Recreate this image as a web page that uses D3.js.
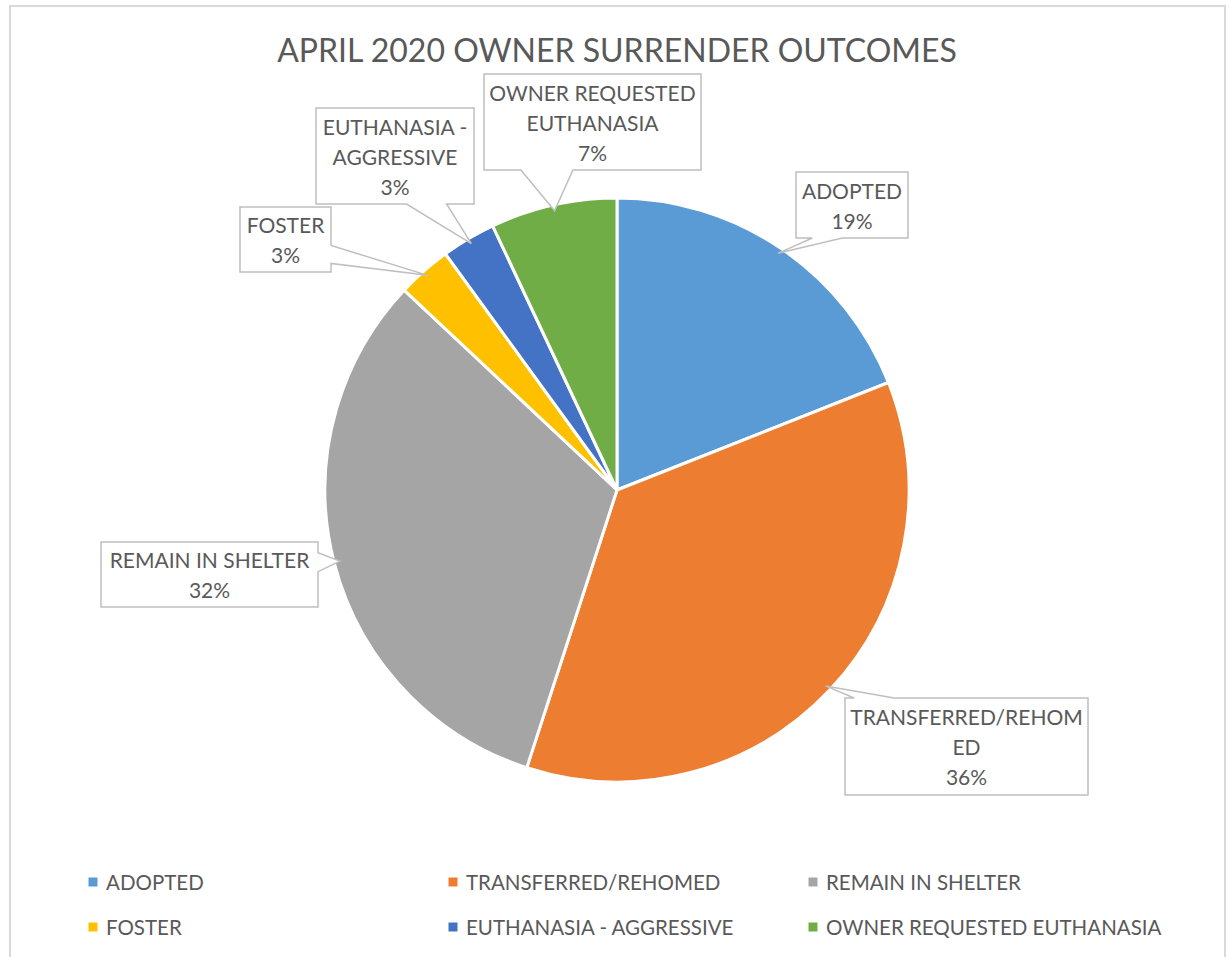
<!DOCTYPE html>
<html>
<head>
<meta charset="utf-8">
<script src="https://cdn.jsdelivr.net/npm/d3@7"></script>
<style>
  body { margin: 0; background: #fff; }
  text { font-family: Lato, "Open Sans", sans-serif; fill: #595959; }
</style>
</head>
<body>
<div id="chart"></div>
<script>
// data
const categories = ["ADOPTED", "TRANSFERRED/REHOMED", "REMAIN IN SHELTER", "FOSTER", "EUTHANASIA - AGGRESSIVE", "OWNER REQUESTED EUTHANASIA"];
const values = [19, 36, 32, 3, 3, 7];
const colors = ["#5B9BD5", "#ED7D31", "#A5A5A5", "#FFC000", "#4472C4", "#70AD47"];
// label text as Excel wrapped it
const labelLines = [
  ["ADOPTED"],
  ["TRANSFERRED/REHOM", "ED"],
  ["REMAIN IN SHELTER"],
  ["FOSTER"],
  ["EUTHANASIA -", "AGGRESSIVE"],
  ["OWNER REQUESTED", "EUTHANASIA"]
];

/** CONSTANTS */
const width = 1229, height = 957;
const cx = 617, cy = 490, radius = 292;
const lineH = 30;

// callout boxes: x, y, w, h, side the pointer leaves from, position of pointer base along that side
const boxes = [
  { x: 796, y: 172, w: 112, h: 66, side: "bottom", at: 0.28, base: 30 },
  { x: 845, y: 698, w: 243, h: 97, side: "top", at: 0.12, base: 40 },
  { x: 101, y: 542, w: 217, h: 65, side: "right", at: 0.31, base: 19 },
  { x: 240, y: 207, w: 91, h: 65, side: "right", at: 0.73, base: 18 },
  { x: 316, y: 108, w: 158, h: 96, side: "bottom", at: 0.70, base: 40 },
  { x: 484, y: 74, w: 217, h: 96, side: "bottom", at: 0.29, base: 52 }
];

const data = categories.map((c, i) => ({ name: c, value: values[i], color: colors[i], lines: labelLines[i], box: boxes[i] }));

const svg = d3.select("#chart").append("svg")
  .attr("width", width)
  .attr("height", height);

// chart area border
svg.append("rect")
  .attr("x", 10).attr("y", 6)
  .attr("width", 1215).attr("height", 970)
  .attr("fill", "#fff")
  .attr("stroke", "#d9d9d9")
  .attr("stroke-width", 2);

// title
svg.append("text")
  .attr("x", cx).attr("y", 49)
  .attr("text-anchor", "middle")
  .attr("dominant-baseline", "central")
  .attr("font-size", 32)
  .text("APRIL 2020 OWNER SURRENDER OUTCOMES");

/** PIE */
const pie = d3.pie().sort(null).value(d => d.value);
const arc = d3.arc().innerRadius(0).outerRadius(radius);
const arcs = pie(data);

const g = svg.append("g").attr("transform", `translate(${cx},${cy})`);
g.selectAll("path.slice")
  .data(arcs)
  .join("path")
  .attr("class", "slice")
  .attr("d", arc)
  .attr("fill", d => d.data.color)
  .attr("stroke", "#fff")
  .attr("stroke-width", 3)
  .attr("stroke-linejoin", "round");

/** CALLOUTS */
// box outline with a wedge running out to the anchor point
function callout(b, px, py) {
  const x0 = b.x, y0 = b.y, x1 = b.x + b.w, y1 = b.y + b.h;
  const half = b.base / 2;
  let p;
  if (b.side === "bottom") {
    const c = x0 + b.w * b.at;
    p = [[x0, y0], [x1, y0], [x1, y1], [c + half, y1], [px, py], [c - half, y1], [x0, y1]];
  } else if (b.side === "top") {
    const c = x0 + b.w * b.at;
    p = [[x0, y0], [c - half, y0], [px, py], [c + half, y0], [x1, y0], [x1, y1], [x0, y1]];
  } else if (b.side === "right") {
    const c = y0 + b.h * b.at;
    p = [[x0, y0], [x1, y0], [x1, c - half], [px, py], [x1, c + half], [x1, y1], [x0, y1]];
  } else {
    const c = y0 + b.h * b.at;
    p = [[x0, y0], [x1, y0], [x1, y1], [x0, y1], [x0, c + half], [px, py], [x0, c - half]];
  }
  return "M" + p.map(q => q.join(",")).join("L") + "Z";
}

const anchorArc = d3.arc().innerRadius(radius * 0.98).outerRadius(radius * 0.98);

const labels = svg.append("g").selectAll("g.label")
  .data(arcs)
  .join("g")
  .attr("class", "label");

labels.append("path")
  .attr("d", d => {
    const [ax, ay] = anchorArc.centroid(d);
    return callout(d.data.box, cx + ax, cy + ay);
  })
  .attr("fill", "#fff")
  .attr("stroke", "#bfbfbf")
  .attr("stroke-width", 1.5);

labels.each(function (d) {
  const b = d.data.box;
  const lines = d.data.lines.concat([d3.format(".0%")(d.data.value / 100)]);
  const midY = b.y + b.h / 2;
  d3.select(this).selectAll("text")
    .data(lines)
    .join("text")
    .attr("x", b.x + b.w / 2)
    .attr("y", (t, i) => midY + (i - (lines.length - 1) / 2) * lineH)
    .attr("text-anchor", "middle")
    .attr("dominant-baseline", "central")
    .attr("font-size", 21)
    .text(t => t);
});

/** LEGEND */
const legendX = d3.scaleOrdinal().domain([0, 1, 2]).range([93, 453, 813]);
const legendY = d3.scaleOrdinal().domain([0, 1]).range([882, 927]);

const legend = svg.append("g").selectAll("g.legend")
  .data(data)
  .join("g")
  .attr("class", "legend")
  .attr("transform", (d, i) => `translate(${legendX(i % 3)},${legendY(Math.floor(i / 3))})`);

legend.append("rect")
  .attr("x", -4.5).attr("y", -4.5)
  .attr("width", 9).attr("height", 9)
  .attr("fill", d => d.color);

legend.append("text")
  .attr("x", 13)
  .attr("dominant-baseline", "central")
  .attr("font-size", 20.5)
  .text(d => d.name);
</script>
</body>
</html>
